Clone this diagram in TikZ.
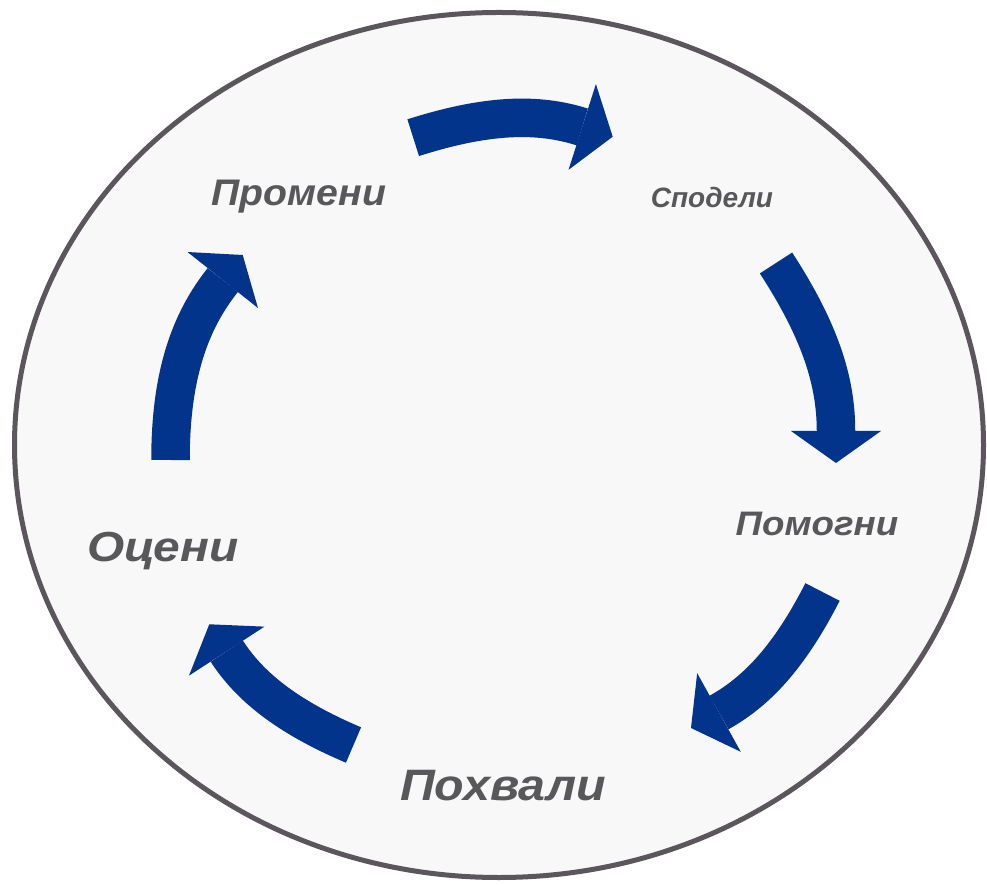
\documentclass[tikz,border=0pt]{standalone}
\usepackage{fontspec}
\setmainfont{Liberation Sans}
\usetikzlibrary{arrows.meta}

\definecolor{cycblue}{RGB}{3,52,140}
\definecolor{rimgray}{RGB}{90,86,92}
\definecolor{txtgray}{RGB}{88,88,91}
\definecolor{bggray}{RGB}{248,248,248}

\begin{document}
\begin{tikzpicture}[x=1pt,y=1pt,
    cyc/.style={line width=38.5pt,color=cycblue,
      -{Triangle[length=32pt 0,width=90pt 0,line width=0pt 0 0]}},
    lbl/.style={anchor=base,inner sep=0pt,text=txtgray,
      font=\bfseries\itshape\fontsize{#1}{#1}\selectfont}]

  \fill [white] (0,0) rectangle (987,884);
  \useasboundingbox (0,0) rectangle (987,884);

  \draw [line width=5pt,draw=rimgray,fill=bggray] (499,439) ellipse [x radius=484.5,y radius=432.5];

  % steps of the cycle
  \node [lbl=37] (promeni) at (299,678) {\scalebox{1.06}[1]{Промени}};
  \node [lbl=28] (spodeli) at (712,676) {Сподели};
  \node [lbl=34] (pomogni) at (817,348) {\scalebox{1.08}[1]{Помогни}};
  \node [lbl=44] (pohvali) at (503,84)  {\scalebox{1.1}[1]{Похвали}};
  \node [lbl=42] (oceni)   at (163,323) {\scalebox{1.14}[1]{Оцени}};

  % arrow ends
  \coordinate (T_1) at (413.2,746.3);  \coordinate (H_1) at (612.7,747.3);
  \coordinate (T_2) at (776,621);      \coordinate (H_2) at (836,421);
  \coordinate (T_3) at (822.5,292);    \coordinate (H_3) at (691,156);
  \coordinate (T_4) at (353.5,139);    \coordinate (H_4) at (209.3,259.7);
  \coordinate (T_5) at (170.5,424);    \coordinate (H_5) at (242.7,629);

  \path [cyc]
    (T_1) edge [out=17.7,in=162.3] (H_1)
    (T_2) edge [out=-57,in=90]     (H_2)
    (T_3) edge [out=-117,in=29]    (H_3)
    (T_4) edge [out=157,in=-57]    (H_4)
    (T_5) edge [out=90,in=-128.5]  (H_5);

\end{tikzpicture}
\end{document}
